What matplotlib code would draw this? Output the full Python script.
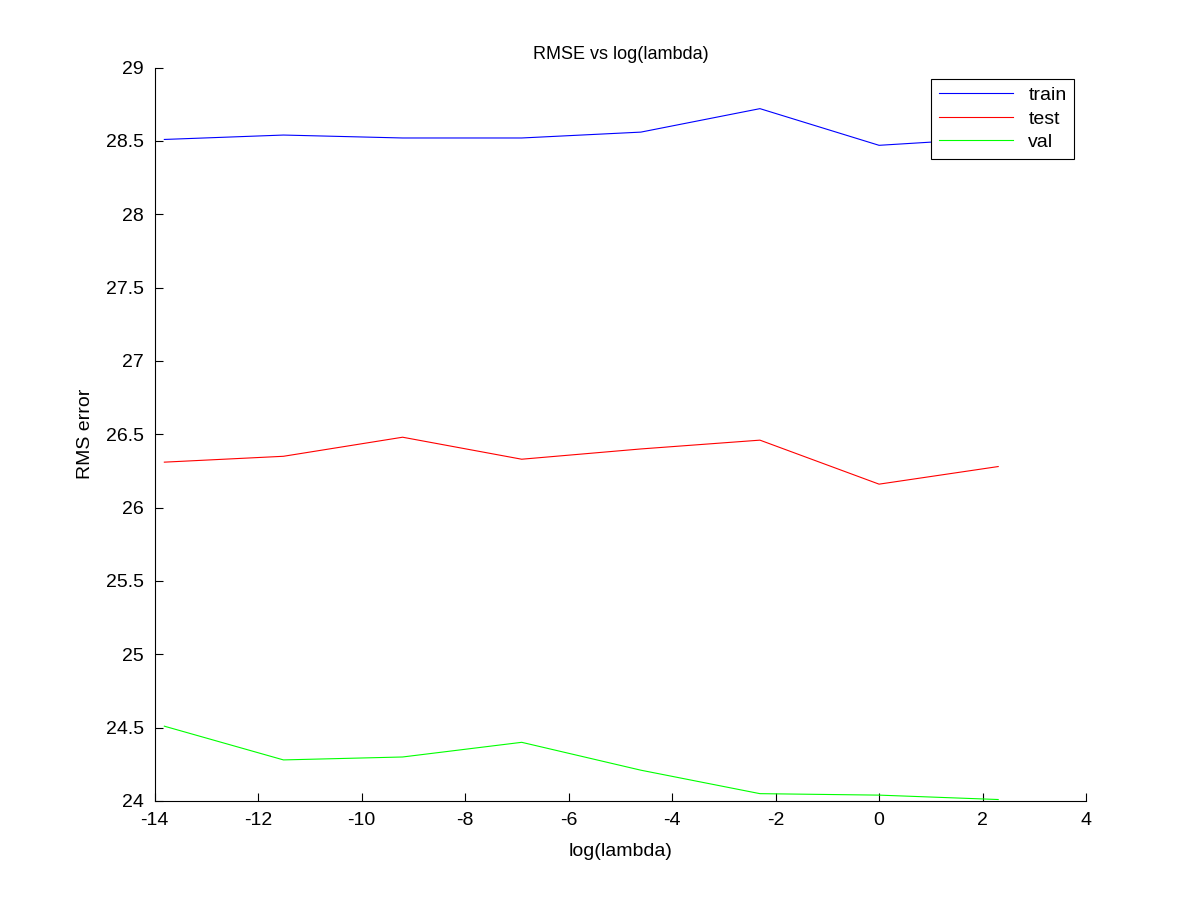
import matplotlib
matplotlib.use("Agg")
import matplotlib.pyplot as plt

plt.rcParams['font.family'] = ['Liberation Sans', 'DejaVu Sans']
plt.rcParams['axes.unicode_minus'] = False

x = [-13.8155, -11.5129, -9.2103, -6.9078, -4.6052, -2.3026, 0.0, 2.3026]
train = [28.51, 28.54, 28.52, 28.52, 28.56, 28.72, 28.47, 28.52]
test = [26.31, 26.35, 26.48, 26.33, 26.40, 26.46, 26.16, 26.28]
val = [24.51, 24.28, 24.30, 24.40, 24.21, 24.05, 24.04, 24.01]

fig = plt.figure(figsize=(12, 9.01), dpi=100)
ax = fig.add_axes([0.129, 0.111, 0.776, 0.814])
ax.plot(x, train, color="blue", lw=0.8, label="train")
ax.plot(x, test, color="red", lw=0.8, label="test")
ax.plot(x, val, color="#00ff00", lw=0.8, label="val")
ax.set_xlim(-14, 4)
ax.set_ylim(24, 29)
ax.set_xticks(range(-14, 5, 2))
ax.set_yticks([24, 24.5, 25, 25.5, 26, 26.5, 27, 27.5, 28, 28.5, 29])
ax.set_yticklabels(["24", "24.5", "25", "25.5", "26", "26.5", "27", "27.5", "28", "28.5", "29"])
ax.spines["top"].set_visible(False)
ax.spines["right"].set_visible(False)
ax.tick_params(direction="in", labelsize=14, length=6, pad=8)
ax.set_title("RMSE vs log(lambda)", fontsize=13)
ax.set_xlabel("log(lambda)", fontsize=14, labelpad=10)
ax.set_ylabel("RMS error", fontsize=14, labelpad=8)
leg = ax.legend(loc="upper right", bbox_to_anchor=(0.998, 0.998), fontsize=14,
                fancybox=False, framealpha=1, edgecolor="black", handlelength=3.8,
                labelspacing=0.3, borderpad=0.4)
leg.get_frame().set_linewidth(0.8)
fig.savefig("out.png")
